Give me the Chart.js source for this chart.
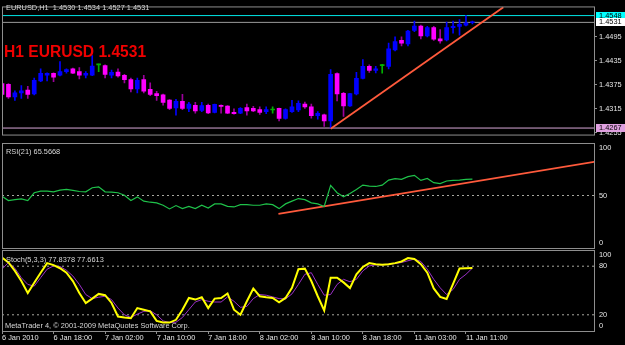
<!DOCTYPE html>
<html><head><meta charset="utf-8">
<script src="https://cdn.jsdelivr.net/npm/chart.js@4.4.1/dist/chart.umd.min.js"></script>
<style>
html,body{margin:0;padding:0;background:#000;width:625px;height:345px;overflow:hidden}
canvas{position:absolute;left:0;display:block}
</style></head><body>
<canvas id="cMain" width="625" height="141" style="top:0px"></canvas>
<canvas id="cRsi" width="625" height="108" style="top:141px"></canvas>
<canvas id="cSto" width="625" height="96" style="top:249px"></canvas>
<script>
// ---------- DATA ----------
const opens = [1.4378,1.4376,1.4345,1.4355,1.4362,1.4352,1.4385,1.4399,1.4404,1.4399,
1.4408,1.4415,1.4408,1.4399,1.4399,1.4425,1.4423,1.4399,1.4407,1.4399,
1.4388,1.4365,1.4388,1.4364,1.4353,1.4350,1.4337,1.4317,1.4334,1.4316,
1.4324,1.4311,1.4324,1.4306,1.4324,1.4322,1.4306,1.4304,1.4318,1.4316,
1.4313,1.4308,1.4312,1.4316,1.4291,1.4308,1.4312,1.4327,1.4320,1.4298,
1.4300,1.4285,1.4403,1.4354,1.4322,1.4352,1.4391,1.4421,1.4411,1.4423,
1.4421,1.4462,1.4486,1.4477,1.4511,1.4522,1.4497,1.4518,1.4490,1.4487,
1.4518,1.4521,1.4524,1.4530];
const highs = [1.4380,1.4378,1.4360,1.4373,1.4371,1.4392,1.4415,1.4405,1.4405,1.4433,
1.4415,1.4417,1.4418,1.4408,1.4448,1.4427,1.4425,1.4412,1.4415,1.4401,
1.4392,1.4392,1.4399,1.4380,1.4359,1.4352,1.4338,1.4339,1.4351,1.4331,
1.4331,1.4331,1.4327,1.4327,1.4325,1.4323,1.4315,1.4318,1.4327,1.4321,
1.4320,1.4320,1.4320,1.4317,1.4315,1.4336,1.4335,1.4332,1.4327,1.4308,
1.4302,1.4413,1.4405,1.4356,1.4354,1.4406,1.4438,1.4425,1.4421,1.4426,
1.4479,1.4495,1.4495,1.4511,1.4534,1.4524,1.4521,1.4521,1.4513,1.4532,
1.4534,1.4538,1.4548,1.4534];
const lows = [1.4350,1.4341,1.4336,1.4341,1.4341,1.4350,1.4383,1.4385,1.4383,1.4397,
1.4404,1.4403,1.4390,1.4392,1.4398,1.4408,1.4392,1.4392,1.4394,1.4380,
1.4357,1.4355,1.4355,1.4348,1.4336,1.4324,1.4313,1.4299,1.4313,1.4308,
1.4304,1.4308,1.4303,1.4305,1.4304,1.4303,1.4302,1.4303,1.4299,1.4308,
1.4301,1.4303,1.4304,1.4285,1.4289,1.4306,1.4308,1.4316,1.4292,1.4289,
1.4271,1.4267,1.4335,1.4296,1.4321,1.4350,1.4390,1.4406,1.4405,1.4404,
1.4415,1.4460,1.4472,1.4472,1.4508,1.4490,1.4495,1.4486,1.4479,1.4485,
1.4504,1.4499,1.4522,1.4527];
const closes = [1.4351,1.4345,1.4355,1.4360,1.4351,1.4386,1.4404,1.4404,1.4394,1.4408,
1.4413,1.4404,1.4399,1.4404,1.4422,1.4425,1.4401,1.4406,1.4397,1.4388,
1.4365,1.4386,1.4359,1.4351,1.4348,1.4331,1.4316,1.4334,1.4316,1.4327,
1.4310,1.4323,1.4305,1.4326,1.4321,1.4304,1.4303,1.4316,1.4310,1.4310,
1.4306,1.4313,1.4312,1.4291,1.4313,1.4320,1.4329,1.4320,1.4298,1.4304,
1.4285,1.4401,1.4352,1.4322,1.4353,1.4391,1.4421,1.4411,1.4415,1.4423,
1.4465,1.4483,1.4479,1.4509,1.4522,1.4497,1.4518,1.4489,1.4485,1.4518,
1.4521,1.4526,1.4530,1.4531];
const rsi = [49.3,45.2,46.0,46.8,45.2,52.6,54.2,54.2,53.5,55.1,
55.8,54.8,53.8,53.5,57.4,58.3,53.5,53.2,52.6,50.3,
45.2,48.7,44.6,43.6,43.0,40.7,37.2,40.4,37.5,39.7,
37.5,40.7,38.1,42.0,42.0,39.7,39.1,41.3,41.3,40.7,
40.7,42.0,41.3,37.5,42.0,44.6,47.1,46.0,43.0,42.0,
39.5,59.6,52.6,48.7,51.9,55.8,59.9,59.0,58.6,59.9,
64.7,66.0,65.4,68.0,69.2,64.4,66.3,62.2,61.3,63.8,
64.4,64.7,65.4,65.57];
const stochK = [90.8,84.6,74.2,61.7,47.0,59.6,72.0,83.8,81.3,77.5,
72.0,61.7,47.0,34.6,40.0,45.8,44.2,34.6,17.9,16.7,
15.8,28.3,26.3,24.2,12.5,10.4,10.4,13.8,26.3,40.8,
38.8,41.7,28.3,40.0,40.8,46.3,26.3,20.0,36.7,52.5,
42.9,41.7,40.8,35.4,40.8,53.3,76.3,77.0,61.7,42.9,
25.4,65.8,65.8,60.0,53.0,70.0,79.0,83.8,82.5,81.7,
82.5,83.8,85.8,90.0,88.8,82.5,72.0,52.5,42.1,39.6,
58.3,77.1,77.5,77.84];
const stochD = [76.3,84.6,77.5,65.8,57.5,55.4,65.8,76.3,80.4,79.6,
75.0,67.9,57.5,45.0,40.0,41.7,42.9,38.8,28.3,20.0,
16.7,20.8,24.2,25.0,20.0,12.5,10.4,10.8,16.7,26.3,
35.8,38.8,36.7,35.8,35.8,42.1,36.7,29.2,30.4,40.0,
45.0,44.2,42.1,40.0,39.6,45.8,57.5,70.0,72.0,57.5,
44.2,45.0,57.5,63.8,60.8,63.8,74.2,80.4,81.7,81.7,
82.5,83.3,84.6,86.7,88.8,85.8,76.3,63.8,53.3,45.0,
51.3,63.8,70.0,77.66];
const xTickBars = [0,8,16,24,32,40,48,56,64,72];
const xTickLabels = ['6 Jan 2010','6 Jan 18:00','7 Jan 02:00','7 Jan 10:00','7 Jan 18:00','8 Jan 02:00','8 Jan 10:00','8 Jan 18:00','11 Jan 03:00','11 Jan 11:00'];
const priceTicks = [1.4255,1.4315,1.4375,1.4435,1.4495];
const priceLevels = [1.4548,1.4531,1.4267];
const priceTrend = [[51,1.4265],[77.8,1.4569]];
const rsiTicks = [100,50,0];
const rsiLevels = [50];
const rsiTrend = [[42.9,32.4],[92,82.2]];
const stochTicks = [100,80,20,0];
const stochLevels = [80,20];
const header = 'EURUSD,H1  1.4530 1.4534 1.4527 1.4531';
const bigTitle = 'H1 EURUSD 1.4531';
const rsiTitle = 'RSI(21) 65.5668';
const stochTitle = 'Stoch(5,3,3) 77.8378 77.6613';
const copyright = 'MetaTrader 4, \u00A9 2001-2009 MetaQuotes Software Corp.';

// ---------- STYLE ----------
const FONT = '"Liberation Sans", Arial, sans-serif';
const SMALL = '7.4px ' + FONT;
const TXT = '#e6e6e6';
const FRAME = '#8e8e8e';
const X_MIN = 0, X_MAX = 91.87;
const BULL = '#0000ff', BEAR = '#ff00ff', BEARWICK = '#9c009c', DOJI = '#00b000';
const TREND = '#ff5a3c';
const LEVEL = '#a8a8a0';
const levelStyle = [{c:'#00e6e6', bg:'#00ffff'}, {c:'#9a9a9a', bg:'#ffffff'}, {c:'#d8a8d8', bg:'#e0a0e0'}];

const mt4 = {
  id: 'mt4',
  afterDraw(chart, args, o) {
    const ctx = chart.ctx, a = chart.chartArea, ys = chart.scales.y;
    ctx.save();
    ctx.strokeStyle = FRAME; ctx.lineWidth = 1;
    ctx.strokeRect(a.left + 0.5, a.top + 0.5, a.right - a.left, a.bottom - a.top);
    ctx.textAlign = 'left';
    (o.texts || []).forEach(t => {
      ctx.font = t.font; ctx.fillStyle = t.color; ctx.textBaseline = 'alphabetic';
      ctx.fillText(t.text, t.x, t.y);
    });
    if (o.axisLabels) {
      ctx.font = SMALL; ctx.fillStyle = TXT; ctx.textBaseline = 'middle';
      o.axisLabels.forEach(v => {
        let y = ys.getPixelForValue(v);
        y = Math.max(a.top + 5, Math.min(a.bottom - 5, y));
        ctx.fillText(String(v), a.right + 5, y);
      });
    }
    (o.boxes || []).forEach((v, k) => {
      const y = ys.getPixelForValue(v);
      ctx.fillStyle = levelStyle[k].bg;
      ctx.fillRect(a.right + 2, Math.round(y) - 4, 29, 8);
      ctx.fillStyle = '#000'; ctx.font = SMALL; ctx.textBaseline = 'middle';
      ctx.fillText(v.toFixed(4), a.right + 5, y);
    });
    ctx.restore();
  }
};

const hiddenX = {type:'linear', min:X_MIN, max:X_MAX, offset:false, display:false};
const fixedWidth = s => { s.width = 31; };

const candleColor = i => closes[i] > opens[i] ? BULL : (closes[i] < opens[i] ? BEAR : DOJI);
const wickColor = i => closes[i] > opens[i] ? BULL : (closes[i] < opens[i] ? BEARWICK : DOJI);

function levelData(v){ return [{x:X_MIN, y:v}, {x:X_MAX, y:v}]; }
function pts(arr){ return arr.map((v,i)=>({x:i, y:v})); }

// ---------- MAIN PRICE CHART ----------
new Chart(document.getElementById('cMain'), {
  type: 'bar',
  data: { datasets: [
    { type:'line', data: priceTrend.map(p=>({x:p[0], y:p[1]})), borderColor: TREND, borderWidth: 1.8, pointRadius: 0, clip: 0 },
    { data: opens.map((o,i)=>({x:i, y:[o, closes[i]]})), backgroundColor: c => candleColor(c.dataIndex), barThickness: 4, minBarLength: 1, grouped: false, borderWidth: 0, clip: 0 },
    { data: lows.map((l,i)=>({x:i, y:[l, highs[i]]})), backgroundColor: c => wickColor(c.dataIndex), barThickness: 1, grouped: false, borderWidth: 0, clip: 0 },
    ...priceLevels.map((v,k)=>({ type:'line', data: levelData(v), borderColor: levelStyle[k].c, borderWidth: 1, pointRadius: 0, clip: 0 }))
  ]},
  options: {
    responsive: false, animation: false, devicePixelRatio: 1,
    layout: { padding: { left: 2, top: 2, bottom: 1, right: 0 } },
    plugins: { legend:{display:false}, tooltip:{enabled:false},
      mt4: { boxes: priceLevels, texts: [
        {text: header, x: 6, y: 9.5, font: SMALL, color: '#d8d8d8'},
        {text: bigTitle, x: 4, y: 57, font: 'bold 15.6px ' + FONT, color: '#f00000'}
      ]}},
    scales: {
      x: hiddenX,
      y: { position:'right', min:1.425075, max:1.457085, afterFit: fixedWidth,
        afterBuildTicks: s => { s.ticks = priceTicks.map(v=>({value:v})); },
        ticks: { callback: v => Number(v).toFixed(4), color: TXT, font: {family: FONT, size: 7.4}, padding: 2 },
        grid: { display:true, drawOnChartArea:false, drawTicks:true, tickLength:3, color: FRAME },
        border: { display:false } }
    }
  },
  plugins: [mt4]
});

// ---------- RSI ----------
new Chart(document.getElementById('cRsi'), {
  type: 'line',
  data: { datasets: [
    { data: pts(rsi), borderColor: '#1fc24a', borderWidth: 1.2, pointRadius: 0, clip: 0 },
    { data: rsiTrend.map(p=>({x:p[0], y:p[1]})), borderColor: TREND, borderWidth: 1.8, pointRadius: 0, clip: 0 },
    ...rsiLevels.map(v=>({ data: levelData(v), borderColor: LEVEL, borderWidth: 1, borderDash: [2,3], pointRadius: 0, clip: 0 }))
  ]},
  options: {
    responsive: false, animation: false, devicePixelRatio: 1,
    layout: { padding: { left: 2, top: 2, bottom: 1, right: 0 } },
    plugins: { legend:{display:false}, tooltip:{enabled:false},
      mt4: { axisLabels: rsiTicks, texts: [ {text: rsiTitle, x: 6, y: 12.5, font: SMALL, color: '#d8d8d8'} ] } },
    scales: {
      x: hiddenX,
      y: { position:'right', min:0, max:100, afterFit: fixedWidth,
        ticks:{display:false}, grid:{display:false}, border:{display:false} }
    }
  },
  plugins: [mt4]
});

// ---------- STOCHASTIC ----------
new Chart(document.getElementById('cSto'), {
  type: 'line',
  data: { datasets: [
    { data: pts(stochK), borderColor: '#ffff00', borderWidth: 2, pointRadius: 0, clip: 0 },
    { data: pts(stochD), borderColor: '#9b30c8', borderWidth: 1, pointRadius: 0, clip: 0 },
    ...stochLevels.map(v=>({ data: levelData(v), borderColor: LEVEL, borderWidth: 1, borderDash: [2,3], pointRadius: 0, clip: 0 }))
  ]},
  options: {
    responsive: false, animation: false, devicePixelRatio: 1,
    layout: { padding: { left: 2, top: 1, bottom: 0, right: 0 } },
    plugins: { legend:{display:false}, tooltip:{enabled:false},
      mt4: { axisLabels: stochTicks, texts: [
        {text: stochTitle, x: 6, y: 12.5, font: SMALL, color: '#d8d8d8'},
        {text: copyright, x: 5, y: 78.5, font: SMALL, color: '#d8d8d8'}
      ] } },
    scales: {
      x: { type:'linear', min:X_MIN, max:X_MAX, offset:false, display:true,
        afterFit: s => { s.height = 14; },
        afterBuildTicks: s => { s.ticks = xTickBars.map(v=>({value:v})); },
        ticks: { callback: (v,i) => xTickLabels[i], align:'start', maxRotation:0, autoSkip:false, color: TXT, font:{family: FONT, size: 7.4}, padding: 0 },
        grid: { display:true, drawOnChartArea:false, drawTicks:true, tickLength:3, color: FRAME },
        border: { display:false } },
      y: { position:'right', min:0, max:100, afterFit: fixedWidth,
        ticks:{display:false}, grid:{display:false}, border:{display:false} }
    }
  },
  plugins: [mt4]
});
</script>
</body></html>
